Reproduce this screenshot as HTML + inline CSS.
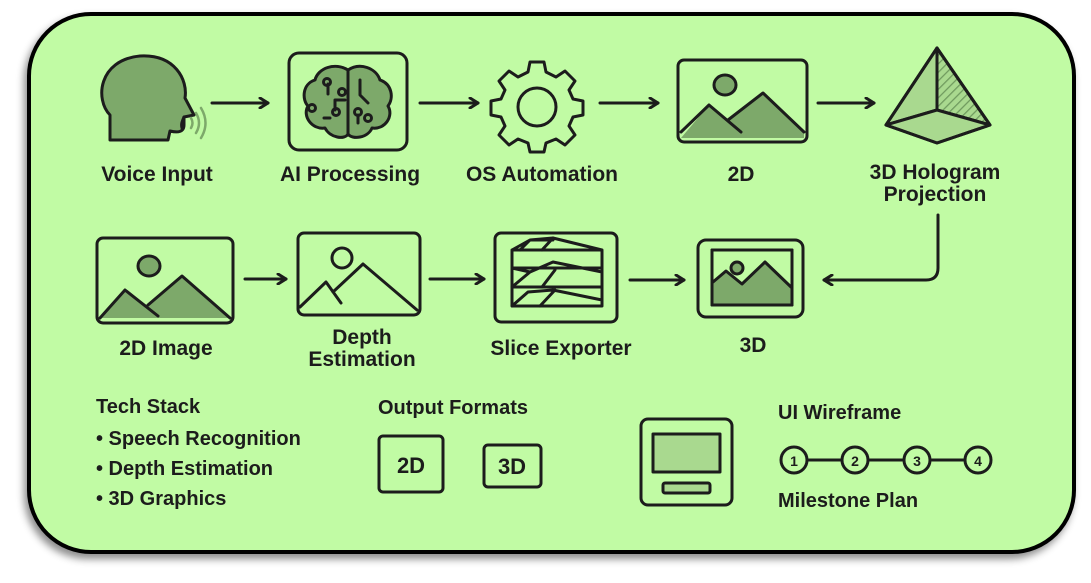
<!DOCTYPE html>
<html><head><meta charset="utf-8"><style>
html,body{margin:0;padding:0;background:#fff;width:1091px;height:583px;overflow:hidden}
text{font-family:"Liberation Sans",sans-serif;font-weight:bold;fill:#1c1c1c}
</style></head><body>
<svg width="1091" height="583" viewBox="0 0 1091 583" xmlns="http://www.w3.org/2000/svg">
<defs>
<filter id="sh" x="-5%" y="-5%" width="110%" height="115%"><feDropShadow dx="-3" dy="5" stdDeviation="4" flood-color="#000" flood-opacity="0.45"/></filter>
<pattern id="hat" width="6" height="6" patternUnits="userSpaceOnUse" patternTransform="rotate(45)"><rect width="6" height="6" fill="#a9d98f"/><line x1="0" y1="0" x2="0" y2="6" stroke="#6f9a5e" stroke-width="2.5"/></pattern>
<marker id="ah" markerWidth="12" markerHeight="12" refX="10" refY="6" orient="auto" markerUnits="userSpaceOnUse"><path d="M2,1 L10,6 L2,11" fill="none" stroke="#1c1c1c" stroke-width="3" stroke-linecap="round" stroke-linejoin="round"/></marker>
</defs>
<rect x="29" y="14" width="1045" height="538" rx="62" fill="#c1fba4" stroke="#000" stroke-width="4" filter="url(#sh)"/>
<g stroke="#1c1c1c" stroke-width="3" fill="none" stroke-linecap="round" stroke-linejoin="round">
<path d="M110,130 L110,115 C95,100 98,60 140,56 C175,54 188,80 185,98 L194,115 L184,117 L184,125 C184,132 178,133 170,131 L168,140 L110,140 Z" fill="#7da96a"/>
<path d="M184,117 C182,122 181,124 182,128" />
<path d="M191,118 q3,5 0,10 M196,113 q6,10 0,20 M201,108 q9,15 0,30" stroke="#7da96a" stroke-width="2.5"/>
<line x1="212" y1="103" x2="268" y2="103" marker-end="url(#ah)"/>
<line x1="420" y1="103" x2="478" y2="103" marker-end="url(#ah)"/>
<line x1="600" y1="103" x2="658" y2="103" marker-end="url(#ah)"/>
<line x1="818" y1="103" x2="874" y2="103" marker-end="url(#ah)"/>
<rect x="289" y="53" width="118" height="97" rx="10"/>
<path d="M348,70 C335,62 318,68 315,80 C302,84 302,100 308,106 C302,116 312,130 325,128 C330,138 345,140 348,134 C352,140 368,138 372,128 C385,130 394,116 388,106 C394,98 392,84 380,80 C376,68 360,62 348,70 Z" fill="#7da96a"/>
<path d="M348,70 L348,134 M328,84 l0,10 M345,100 l-10,0 l0,10 M360,80 l0,15 l8,8 M358,115 l0,8 M330,118 l-6,0"/>
<circle cx="327" cy="82" r="3.5"/><circle cx="336" cy="112" r="3.5"/><circle cx="358" cy="112" r="3.5"/><circle cx="368" cy="118" r="3.5"/><circle cx="312" cy="108" r="3.5"/><circle cx="342" cy="92" r="3.5"/>
<path d="M530,62 L544,62 L546,72 L556,77 L565,71 L575,81 L569,90 L573,99 L583,101 L583,115 L573,117 L569,126 L575,135 L565,145 L556,139 L546,143 L544,152 L530,152 L528,143 L518,139 L509,145 L499,135 L505,126 L501,117 L491,115 L491,101 L501,99 L505,90 L499,81 L509,71 L518,77 L528,72 Z"/>
<circle cx="537" cy="107" r="19"/>
<rect x="678" y="60" width="129" height="82" rx="6"/>
<path d="M681,138 L709,105 L728,121 L763,93 L804,132 L804,138 Z" fill="#7da96a" stroke="none"/>
<path d="M681,132 L709,105 L741,132 M728,120 L763,93 L804,132"/>
<ellipse cx="725" cy="85" rx="11" ry="10" fill="#7da96a"/>
<path d="M937,48 L886,125 L937,110 Z" fill="#a9d98f"/>
<path d="M937,48 L990,125 L937,110 Z" fill="url(#hat)"/>
<path d="M886,125 L937,143 L990,125 L937,110 Z" fill="#a9d98f"/>
<path d="M937,48 L886,125 L937,143 L990,125 Z M937,48 L937,110"/>
<path d="M938,215 L938,268 Q938,280 926,280 L824,280" marker-end="url(#ah)"/>
<rect x="97" y="238" width="136" height="85" rx="6"/>
<path d="M100,318 L125,290 L148,306 L182,276 L230,318 Z" fill="#7da96a" stroke="none"/>
<path d="M100,318 L125,290 L158,316 M148,305 L182,276 L230,318"/>
<ellipse cx="149" cy="266" rx="11" ry="10" fill="#7da96a"/>
<line x1="245" y1="279" x2="286" y2="279" marker-end="url(#ah)"/>
<rect x="298" y="233" width="122" height="82" rx="6"/>
<path d="M300,307 L326,282 L341,303 M333,292 L363,264 L417,310"/>
<circle cx="342" cy="258" r="10"/>
<line x1="430" y1="279" x2="484" y2="279" marker-end="url(#ah)"/>
<rect x="495" y="233" width="122" height="89" rx="6"/>
<path d="M512,268 L512,250 L530,240 L553,238 L602,250 L602,268 Z M512,268 L512,250 L602,250 M520,250 L530,240 L553,240 M542,250 L553,238"/>
<path d="M512,287 L512,268 M602,268 L602,287 M512,268 L530,272 L553,262 L602,272 M512,287 L530,272 M542,287 L555,270 M512,287 L602,287"/>
<path d="M512,306 L512,287 M602,287 L602,306 L512,306 M512,306 L528,292 L553,290 L602,300 M540,306 L555,290"/>
<line x1="630" y1="280" x2="684" y2="280" marker-end="url(#ah)"/>
<rect x="698" y="240" width="105" height="77" rx="8"/>
<rect x="712" y="250" width="80" height="55" fill="#7da96a"/>
<path d="M713,282 L726,271 L742,284 L765,262 L791,287 L791,251 L713,251 Z" fill="#c1fba4" stroke="none"/>
<rect x="712" y="250" width="80" height="55"/>
<path d="M713,282 L726,271 L742,284 L765,262 L791,287"/>
<circle cx="737" cy="268" r="6" fill="#7da96a"/>
<rect x="379" y="436" width="64" height="56" rx="4"/>
<rect x="484" y="445" width="57" height="42" rx="4"/>
<rect x="641" y="419" width="91" height="86" rx="7"/>
<rect x="653" y="434" width="67" height="38" fill="#a9d98f"/>
<rect x="663" y="483" width="47" height="10" rx="2" fill="#a9d98f"/>
<line x1="808" y1="460" x2="841" y2="460"/><line x1="869" y1="460" x2="903" y2="460"/><line x1="931" y1="460" x2="964" y2="460"/>
<circle cx="794" cy="460" r="13"/><circle cx="855" cy="460" r="13"/><circle cx="917" cy="460" r="13"/><circle cx="978" cy="460" r="13"/>
</g>
<g font-size="21" text-anchor="middle">
<text x="157" y="181">Voice Input</text>
<text x="350" y="181">AI Processing</text>
<text x="542" y="181">OS Automation</text>
<text x="741" y="181">2D</text>
<text x="935" y="179">3D Hologram</text>
<text x="935" y="201">Projection</text>
<text x="166" y="355">2D Image</text>
<text x="362" y="344">Depth</text>
<text x="362" y="366">Estimation</text>
<text x="561" y="355">Slice Exporter</text>
<text x="753" y="352">3D</text>
<text x="411" y="473" font-size="22">2D</text>
<text x="512" y="474" font-size="22">3D</text>
<text x="794" y="466" font-size="14">1</text><text x="855" y="466" font-size="14">2</text><text x="917" y="466" font-size="14">3</text><text x="978" y="466" font-size="14">4</text>
</g>
<g font-size="20">
<text x="96" y="413">Tech Stack</text>
<text x="96" y="445">• Speech Recognition</text>
<text x="96" y="475">• Depth Estimation</text>
<text x="96" y="505">• 3D Graphics</text>
<text x="378" y="414">Output Formats</text>
<text x="778" y="419">UI Wireframe</text>
<text x="778" y="507">Milestone Plan</text>
</g>
</svg>
</body></html>
